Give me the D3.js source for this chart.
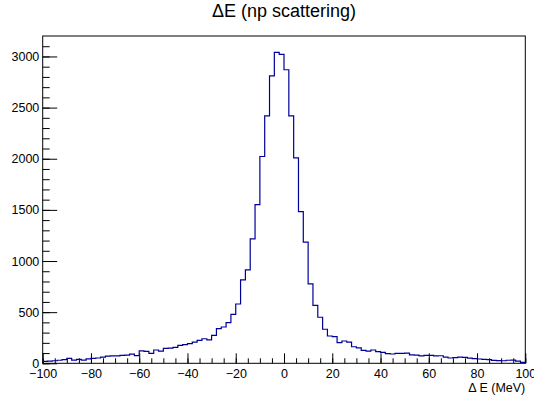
<!doctype html>
<html>
<head>
    <meta charset="utf-8">
    <script src="https://d3js.org/d3.v7.min.js"></script>
</head>
<style>
    body { margin: 0; background: white; }
    svg text {
        font-family: "Liberation Sans", Arial, sans-serif;
        fill: black;
    }
    .axis path { display: none; }
    .axis line { stroke: black; stroke-width: 1; }
</style>
<body>
<script>
    // bin edges: -100 .. 100, width 2
    var binLow = d3.range(-100, 100, 2);
    var counts = [18, 22, 25, 30, 35, 48, 32, 38, 32, 44,
                  48, 52, 60, 70, 72, 72, 78, 80, 90, 75,
                  122, 116, 98, 130, 120, 145, 148, 156, 176, 182,
                  192, 208, 225, 240, 230, 274, 339, 355, 397, 479,
                  580, 815, 913, 1216, 1552, 2022, 2420, 2811, 3039, 3020,
                  2870, 2420, 2009, 1483, 1184, 776, 567, 450, 333, 267,
                  260, 202, 218, 208, 162, 150, 127, 120, 130, 114,
                  107, 94, 91, 98, 98, 100, 82, 80, 72, 78,
                  78, 72, 74, 60, 52, 55, 60, 58, 50, 45,
                  42, 38, 35, 28, 26, 25, 30, 32, 22, 10];
    var xMajor = [-100, -80, -60, -40, -20, 0, 20, 40, 60, 80, 100];
    var xMinor = d3.range(-100, 101, 5);
    var yMajor = [0, 500, 1000, 1500, 2000, 2500, 3000];
    var yMinor = d3.range(0, 3101, 100);

    var width = 534, height = 401;
    var padL = 42.7, padR = 525.3, padT = 36, padB = 363.3;

    var x = d3.scaleLinear().domain([-100, 100]).range([padL, padR]);
    var y = d3.scaleLinear().domain([0, 3200]).range([padB, padT]);

    var svg = d3.select("body").append("svg")
        .attr("width", width)
        .attr("height", height);

    // title, centred over the frame
    svg.append("text")
        .attr("x", (padL + padR) / 2)
        .attr("y", 17)
        .attr("text-anchor", "middle")
        .style("font-size", "18px")
        .text("\u0394E (np scattering)");

    // x axis
    svg.append("g").attr("class", "axis")
        .attr("transform", "translate(0," + padB + ")")
        .call(d3.axisBottom(x).tickValues(xMinor).tickSize(-5).tickFormat(""));
    var gx = svg.append("g").attr("class", "axis")
        .attr("transform", "translate(0," + padB + ")")
        .call(d3.axisBottom(x).tickValues(xMajor).tickSize(-10).tickPadding(6.3));
    gx.selectAll("text").style("font-size", "12.5px").attr("font-family", null);

    // y axis
    svg.append("g").attr("class", "axis")
        .attr("transform", "translate(" + padL + ",0)")
        .call(d3.axisLeft(y).tickValues(yMinor).tickSize(-7).tickFormat(""));
    var gy = svg.append("g").attr("class", "axis")
        .attr("transform", "translate(" + padL + ",0)")
        .call(d3.axisLeft(y).tickValues(yMajor).tickSize(-14.5).tickPadding(3.4).tickFormat(d3.format("d")));
    gy.selectAll("text").style("font-size", "12.5px").attr("font-family", null);

    // frame
    svg.append("rect")
        .attr("x", padL).attr("y", padT)
        .attr("width", padR - padL).attr("height", padB - padT)
        .attr("fill", "none")
        .attr("stroke", "black")
        .attr("stroke-width", 1);

    // histogram outline
    var pts = binLow.map(function (b, i) { return [b, counts[i]]; });
    pts.push([100, counts[counts.length - 1]]);

    var line = d3.line()
        .x(function (d) { return x(d[0]); })
        .y(function (d) { return y(d[1]); })
        .curve(d3.curveStepAfter);

    svg.append("path")
        .datum(pts)
        .attr("d", line)
        .attr("fill", "none")
        .attr("stroke", "#000099")
        .attr("stroke-width", 1.2);

    // axis title
    svg.append("text")
        .attr("x", padR)
        .attr("y", 392)
        .attr("text-anchor", "end")
        .style("font-size", "12.5px")
        .text("\u0394 E (MeV)");
</script>
</body>
</html>
